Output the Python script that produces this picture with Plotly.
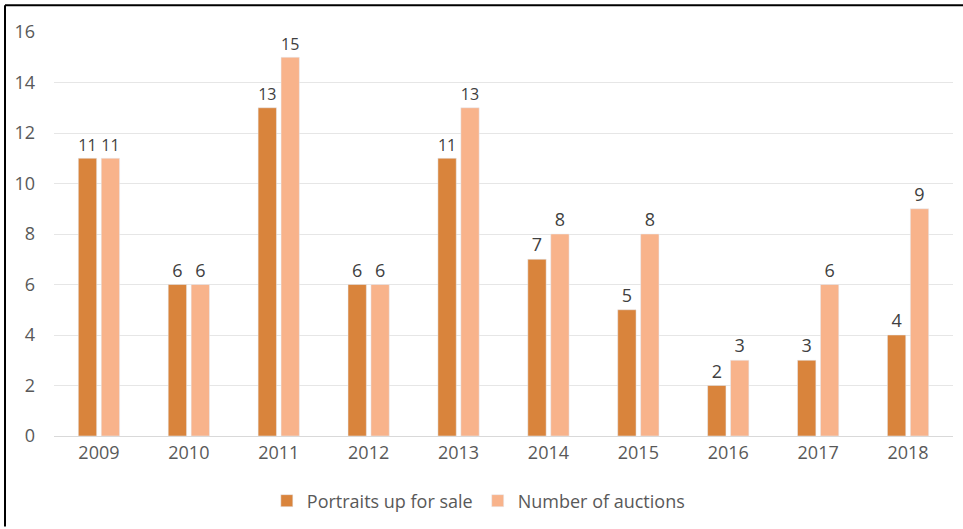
import plotly.graph_objects as go

years = ["2009", "2010", "2011", "2012", "2013", "2014", "2015", "2016", "2017", "2018"]
portraits = [11, 6, 13, 6, 11, 7, 5, 2, 3, 4]
auctions = [11, 6, 15, 6, 13, 8, 8, 3, 6, 9]

W, H = 963, 529
ml, mr, mt, mb = 54, 10, 32, 91
pw, ph = W - ml - mr, H - mt - mb

font_fam = "Open Sans, Liberation Sans, sans-serif"
txt_col = "#595959"

fig = go.Figure()
fig.add_trace(go.Bar(x=years, y=portraits, name="Portraits up for sale",
                     marker_color="#D9843C", text=portraits, textposition="outside",
                     textfont=dict(size=18, color="#404040"), cliponaxis=False))
fig.add_trace(go.Bar(x=years, y=auctions, name="Number of auctions",
                     marker_color="#F8B38B", text=auctions, textposition="outside",
                     textfont=dict(size=18, color="#404040"), cliponaxis=False))

fig.update_layout(
    width=W, height=H,
    margin=dict(l=ml, r=mr, t=mt, b=mb),
    paper_bgcolor="white", plot_bgcolor="white",
    barmode="group", bargap=0.49, bargroupgap=0.2,
    font=dict(family=font_fam, color=txt_col, size=18),
    showlegend=True,
    legend=dict(orientation="h", x=0.472, xanchor="center", y=-0.115, yanchor="top",
                font=dict(size=18, color=txt_col), itemwidth=30),
    xaxis=dict(showgrid=False, showline=True, linecolor="#D9D9D9", linewidth=1,
               ticks="", tickfont=dict(size=18, color=txt_col)),
    yaxis=dict(range=[0, 16], dtick=2, showgrid=True, gridcolor="#E6E6E6",
               zeroline=False, showline=False, ticks="",
               tickfont=dict(size=18, color=txt_col), ticklabelstandoff=18),
    shapes=[
        dict(type="line", xref="paper", yref="paper",
             x0=(5 - ml) / pw, x1=(W - ml) / pw, y0=(H - mb - 5) / ph, y1=(H - mb - 5) / ph,
             line=dict(color="black", width=2)),
        dict(type="line", xref="paper", yref="paper",
             x0=(5 - ml) / pw, x1=(5 - ml) / pw, y0=(H - mb - 5) / ph, y1=(H - mb - H) / ph,
             line=dict(color="black", width=2)),
    ],
)

fig.write_html("out.html", config={"displayModeBar": False},
               post_script="document.body.style.margin='0';")
